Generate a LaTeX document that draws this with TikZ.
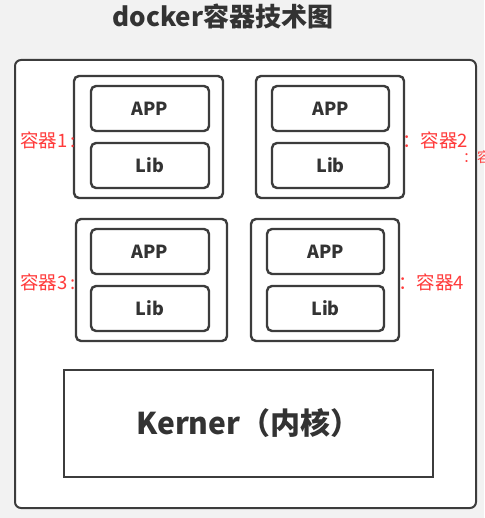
\documentclass[tikz,border=0pt]{standalone}
\usepackage{fontspec}
\setmainfont{Noto Sans CJK SC}
\usepackage{tikz}
\usetikzlibrary{positioning}
\definecolor{linegray}{HTML}{3C3C3C}
\definecolor{textgray}{HTML}{333333}
\definecolor{labelred}{HTML}{FF3B3B}
\definecolor{bggray}{HTML}{F2F2F2}

\begin{document}
\begin{tikzpicture}[x=1pt, y=-1pt,
      container/.style={draw=linegray, line width=2.4pt, rounded corners=5pt,
                        minimum width=149pt, minimum height=122pt},
      layer/.style={draw=linegray, line width=2.4pt, rounded corners=5pt, fill=white,
                    minimum width=118pt, minimum height=45pt,
                    text=textgray, font=\bfseries\fontsize{18}{20}\selectfont},
      tag/.style={text=labelred, font=\fontsize{18.5}{20}\selectfont, inner sep=0pt}]
      \useasboundingbox (0, 0) rectangle (484, 518);
      \fill [bggray] (0, 0) rectangle (484, 518);
      \draw [linegray, line width=2pt, rounded corners=6pt, fill=white]
            (15, 60) rectangle (476, 508);
      \node (title) [text=textgray, font=\bfseries\fontsize{26}{28}\selectfont]
            at (223, 16) {docker容器技术图};
      % containers
      \node (c1) [container] at (148.5, 137) {};
      \node (c2) [container, minimum width=148pt] at (330, 137) {};
      \node (c3) [container, minimum width=151pt] at (151.5, 280) {};
      \node (c4) [container, minimum width=148pt] at (325, 280) {};
      \node (app1) [layer] at (150, 108.5) {APP};
      \node (lib1) [layer] at (150, 165.5) {Lib};
      \node (app2) [layer, minimum width=117pt] at (330.5, 108.5) {APP};
      \node (lib2) [layer, minimum width=117pt] at (330.5, 165.5) {Lib};
      \node (app3) [layer] at (150, 251.5) {APP};
      \node (lib3) [layer] at (150, 308.5) {Lib};
      \node (app4) [layer, minimum width=117pt] at (325.5, 251.5) {APP};
      \node (lib4) [layer, minimum width=117pt] at (325.5, 308.5) {Lib};
      % kernel
      \node (kernel) [draw=linegray, line width=2pt, minimum width=369pt, minimum height=107pt,
                      text=textgray, font=\bfseries\fontsize{30}{34}\selectfont]
            at (248.5, 423.5) {Kerner（内核）};
      % labels
      \node (t1) [tag, anchor=east] at (76, 140) {容器1\,:};
      \node (t2) [tag, anchor=west] at (402, 140) {：容器2};
      \node (t3) [tag, anchor=east] at (76, 282) {容器3\,:};
      \node (t4) [tag, anchor=west] at (398, 282) {：容器4};
      \node (t5) [tag, anchor=west, font=\fontsize{14}{16}\selectfont] at (463, 157) {：容};
\end{tikzpicture}
\end{document}
